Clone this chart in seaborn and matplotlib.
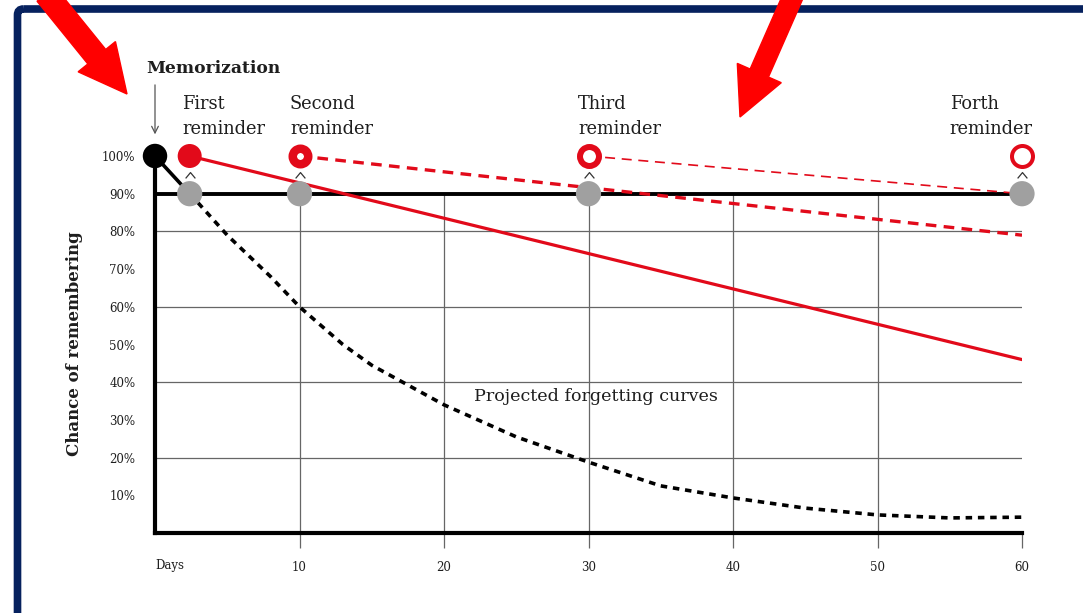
import numpy as np
import pandas as pd
import matplotlib
matplotlib.use("Agg")
import matplotlib.pyplot as plt
import matplotlib.patches as mpatches
import matplotlib.path as mpath
import matplotlib.transforms as mtransforms
import seaborn as sns

# ---------------- data ----------------
# forgetting curve without any reminder (black dotted)
forget_days = [2.4, 3, 5, 8, 10, 13, 15, 20, 25, 30, 35, 40, 45, 50, 55, 60]
forget_pct = [90, 87.5, 79, 68, 60, 50, 44.5, 34, 25.5, 18.8, 12.5, 9.3, 6.6, 4.8, 4.0, 4.2]

# memorization drop to first reminder (black solid)
memo_days = [0, 2.4]
memo_pct = [100, 90]

# after first reminder (red solid)
first_days = [2.4, 60]
first_pct = [100, 46]

# after second reminder (red thick dashed)
second_days = [10, 60]
second_pct = [100, 79]

# after third reminder (red thin dashed)
third_days = [30, 60]
third_pct = [100, 90]

reminder_days = [2.4, 10, 30, 60]
reminder_labels = ["First\nreminder", "Second\nreminder", "Third\nreminder", "Forth\nreminder"]
label_x = [1.87, 9.34, 29.27, 55.0]

y_ticks = [10, 20, 30, 40, 50, 60, 70, 80, 90, 100]
x_ticks = [10, 20, 30, 40, 50, 60]

RED = "#e20a1a"
GREY = "#a0a0a0"
INK = "#1e1e1e"

sns.set_theme(style="white")
plt.rcParams["font.family"] = ["DejaVu Serif", "DejaVu Sans"]

W, H = 1083, 613
fig = plt.figure(figsize=(W / 100, H / 100), dpi=100)
fig.patch.set_facecolor("white")

# pixel transform, y measured from the top
pix = mtransforms.Affine2D().scale(1 / 100, -1 / 100).translate(0, H / 100) + fig.dpi_scale_trans

# navy frame (cropped screenshot)
frame = mpatches.FancyBboxPatch((17.5, 9), 1200, 700, boxstyle="round,pad=0,rounding_size=6",
                                fill=False, edgecolor="#06215e", linewidth=5.5, transform=pix)
fig.patches.append(frame)

ax = fig.add_axes([155 / W, (H - 533) / H, (1022 - 155) / W, (533 - 156) / H])
ax.set_xlim(0, 60)
ax.set_ylim(0, 100)
ax.set_facecolor("none")

# grid
for yv in [20, 40, 60, 80]:
    ax.plot([0, 60], [yv, yv], color="#666666", lw=0.9, zorder=1)
ax.vlines(x_ticks[:-1], 0, 90, color="#666666", lw=0.9, zorder=1)
ax.plot([0, 60], [90, 90], color="black", lw=2.8, zorder=2, solid_capstyle="butt")

# curves
sns.lineplot(x=forget_days, y=forget_pct, ax=ax, color="black", lw=2.6,
             linestyle=(0, (1.8, 1.6)), zorder=3)
sns.lineplot(x=memo_days, y=memo_pct, ax=ax, color="black", lw=2.6, zorder=3)
sns.lineplot(x=first_days, y=first_pct, ax=ax, color=RED, lw=2.3, zorder=3)
sns.lineplot(x=second_days, y=second_pct, ax=ax, color=RED, lw=2.4,
             linestyle=(0, (3.2, 2.2)), zorder=3)
sns.lineplot(x=third_days, y=third_pct, ax=ax, color=RED, lw=1.2,
             linestyle=(0, (6, 4)), zorder=3)

# grey dots at 90%
ax.scatter(reminder_days, [90] * 4, s=330, color=GREY, edgecolor="none", zorder=5, clip_on=False)

# memorization point
ax.scatter([0], [100], s=310, color="black", edgecolor="none", zorder=6, clip_on=False)

# red reminder dots: filled, then rings of decreasing thickness
px2pt = 0.72
ring_d = [0, 15.5, 19, 21]
ring_w = [0, 8.5, 6, 4]
ax.scatter([reminder_days[0]], [100], s=(24 * px2pt) ** 2, color=RED, edgecolor="none",
           zorder=6, clip_on=False)
for d, md, lw in zip(reminder_days[1:], ring_d[1:], ring_w[1:]):
    ax.scatter([d], [100], s=(md * px2pt) ** 2, facecolor="white", edgecolor=RED,
               linewidths=lw * px2pt, zorder=6, clip_on=False)

# little carets between the dots
caret = mpath.Path([(-1, -0.6), (0, 0.6), (1, -0.6)],
                   [mpath.Path.MOVETO, mpath.Path.LINETO, mpath.Path.LINETO])
ax.plot(reminder_days, [95.0] * 4, linestyle="none", marker=caret, markersize=7,
        markerfacecolor="none", markeredgecolor="#333333", markeredgewidth=0.9,
        zorder=6, clip_on=False)

# spines
sns.despine(ax=ax, top=True, right=True)
for side in ["left", "bottom"]:
    ax.spines[side].set_linewidth(3)
    ax.spines[side].set_color("black")
ax.spines["left"].set_bounds(0, 100)

# ticks
ax.set_yticks(y_ticks)
ax.set_yticklabels([f"{v}%" for v in y_ticks])
ax.set_xticks(x_ticks)
ax.set_xticklabels([str(v) for v in x_ticks])
ax.tick_params(axis="y", length=0, pad=14, labelsize=8.5, labelcolor=INK)
ax.tick_params(axis="x", bottom=True, length=11, width=0.9, color="#666666",
               pad=9, labelsize=8.5, labelcolor=INK, direction="out")
ax.text(0, -8.5, "Days", ha="left", va="center", fontsize=8.5, color=INK)

ax.set_ylabel("Chance of remembering", fontsize=12, fontweight="bold", color=INK)
ax.yaxis.set_label_coords(-(155 - 83) / 867, (533 - 344) / 377)

# annotations
ax.text(-0.6, 123.3, "Memorization", ha="left", va="center", fontsize=12.3,
        fontweight="bold", color=INK, clip_on=False)
ax.annotate("", xy=(0, 105.0), xytext=(0, 119.6),
            arrowprops=dict(arrowstyle="->", color="#555555", lw=0.9), annotation_clip=False)
for lx, lab in zip(label_x, reminder_labels):
    ax.text(lx, 116.1, lab, ha="left", va="top", fontsize=12.8, color=INK,
            linespacing=1.45, clip_on=False)
ax.text(22.08, 36.3, "Projected forgetting curves", ha="left", va="center",
        fontsize=12.6, color=INK)

# red pointer arrows on top
fig.patches.append(mpatches.FancyArrow(46, -6, 81, 100, width=23, head_width=48, head_length=48,
                                       length_includes_head=True, color="#ff0000",
                                       transform=pix, zorder=10))
fig.patches.append(mpatches.FancyArrow(794, -6, -54, 123, width=20, head_width=48, head_length=48,
                                       length_includes_head=True, color="#ff0000",
                                       transform=pix, zorder=10))

fig.savefig("out.png", dpi=100, facecolor="white")
